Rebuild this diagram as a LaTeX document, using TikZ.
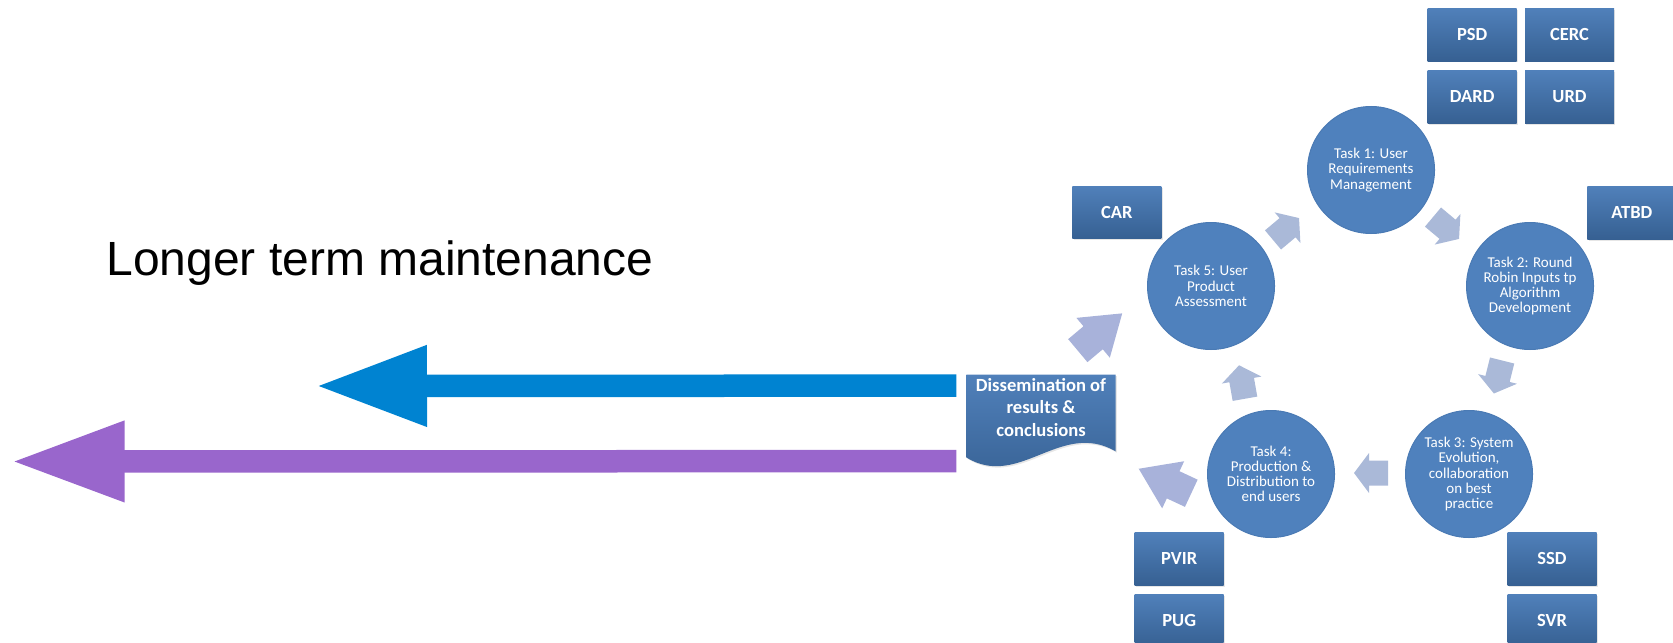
\documentclass[tikz,border=0pt]{standalone}
\usepackage{fontspec}
\setmainfont{Carlito}
\newfontfamily\headfont{Liberation Sans}
\usetikzlibrary{arrows.meta,calc,shadows,backgrounds}

\definecolor{taskblue}{RGB}{79,129,189}
\definecolor{taskedge}{RGB}{74,122,180}
\definecolor{boxtop}{RGB}{80,128,186}
\definecolor{boxbot}{RGB}{54,96,146}
\definecolor{cyc}{RGB}{170,185,216}
\definecolor{cycbig}{RGB}{168,178,218}
\definecolor{longblue}{RGB}{0,131,209}
\definecolor{longpurple}{RGB}{153,102,204}

\begin{document}
\begin{tikzpicture}[x=0.5pt,y=-0.5pt,
  task/.style={circle, fill=taskblue, draw=taskedge, line width=0.5pt,
    minimum size=63.5pt, inner sep=0pt, align=center, text=white,
    font=\fontsize{7.5}{7.6}\selectfont},
  docbox/.style={rectangle, top color=boxtop, bottom color=boxbot,
    minimum width=44.5pt, minimum height=26.4pt, inner sep=0pt, text=white,
    font=\fontsize{9.25}{11}\selectfont\bfseries,
    drop shadow={shadow xshift=0.7pt, shadow yshift=-0.7pt, opacity=0.2}},
  longarrow/.style={line width=11.25pt, -{Triangle[length=56pt,width=37.5pt]}},
  pics/cyclearrow/.style={code={
    \fill[cyc] (17,0) -- (2,-20) -- (2,-12.5) -- (-17,-12.5) -- (-17,12.5)
      -- (2,12.5) -- (2,20) -- cycle;}},
  pics/bigarrow/.style={code={
    \fill[cycbig] (29,0) -- (-9,-26) -- (-9,-15) -- (-29,-15) -- (-29,15)
      -- (-9,15) -- (-9,26) -- cycle;}},
]
\useasboundingbox (0,0) rectangle (1673,642);

% heading
\node[anchor=base west, inner sep=0pt,
  font=\headfont\fontsize{24}{28}\selectfont] (ltm) at (106,275)
  {Longer term maintenance};

% dissemination document shape
\node[inner sep=0pt, minimum width=74.15pt, minimum height=32.5pt,
  align=center, text=white, font=\fontsize{9.3}{11.25}\selectfont\bfseries]
  (diss) at (1041,407.5) {Dissemination of\\results \&\\conclusions};
\begin{scope}[on background layer]
  \path[top color=boxtop, bottom color=boxbot,
    drop shadow={shadow xshift=0.7pt, shadow yshift=-0.7pt, opacity=0.2}]
    (diss.north west) -- (diss.north east) -- ($(diss.north east)+(0,76.7)$)
    .. controls ($(diss.north east)+(-55,45)$) and ($(diss.north west)+(53,115)$)
    .. ($(diss.north west)+(0,83)$) -- cycle;
\end{scope}

% long-term arrows
\coordinate (blueTip) at (315,386);
\coordinate (purpleTip) at (10.7,461.5);
\draw[longarrow, longblue] ($(diss.north west)+(-10,11)$) -- (blueTip);
\draw[longarrow, longpurple, -{Triangle[length=57pt,width=37.5pt]}]
  ($(diss.north west)+(-10,86.5)$) -- (purpleTip);

% task cycle
\node[task] (t1) at (1371,170) {Task 1: User\\Requirements\\Management};
\node[task] (t2) at (1530,286) {Task 2: Round\\Robin Inputs tp\\Algorithm\\Development};
\node[task] (t3) at (1469,474) {Task 3: System\\Evolution,\\collaboration\\on best\\practice};
\node[task] (t4) at (1271,474) {Task 4:\\Production \&\\Distribution to\\end users};
\node[task] (t5) at (1211,286) {Task 5: User\\Product\\Assessment};

\pic[rotate=40] at (1286,229) {cyclearrow};
\pic[rotate=-40] at (1446,228) {cyclearrow};
\pic[rotate=-104] at (1498,377) {cyclearrow};
\pic[rotate=180] at (1371,473) {cyclearrow};
\pic[rotate=100] at (1242,382) {cyclearrow};
\pic[rotate=40] at (1100,332) {bigarrow};
\pic[rotate=155] at (1165,481) {bigarrow};

% deliverables
\node[docbox] (psd) at (1472.2,34.7) {PSD};
\node[docbox] (cerc) at (1569.5,34.7) {CERC};
\node[docbox] (dard) at (1472.2,97) {DARD};
\node[docbox] (urd) at (1569.5,97) {URD};
\node[docbox] (car) at (1116.9,212.5) {CAR};
\node[docbox] (atbd) at (1631.8,212.7) {ATBD};
\node[docbox] (pvir) at (1179.2,558.8) {PVIR};
\node[docbox] (pug) at (1179.2,620.8) {PUG};
\node[docbox] (ssd) at (1552,558.8) {SSD};
\node[docbox] (svr) at (1552,620.8) {SVR};
\end{tikzpicture}
\end{document}
